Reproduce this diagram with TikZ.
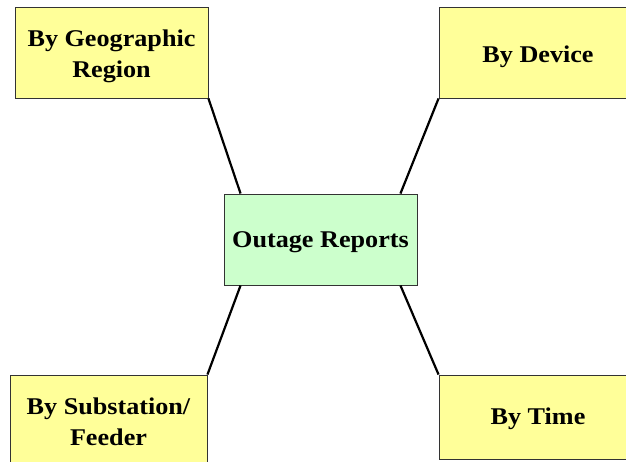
\documentclass[tikz,border=0pt]{standalone}
\usepackage{fontspec}
\setmainfont{Liberation Serif}
\newfontfamily\boxfont{Liberation Serif}[FakeStretch=1.09]
\usetikzlibrary{calc}
\definecolor{boxyellow}{HTML}{FFFF99}
\definecolor{boxgreen}{HTML}{CCFFCC}
\definecolor{edgegray}{HTML}{333333}
% label text: first baseline placed #1 below the node centre
\newcommand{\boxlabel}[2]{\raisebox{-#1}[0pt][0pt]{\begin{tabular}[t]{@{}c@{}}#2\end{tabular}}}
\begin{document}
\begin{tikzpicture}[x=1pt,y=-1pt,
  catbox/.style={draw=edgegray, line width=0.9pt, fill=boxyellow, rectangle,
    minimum width=194pt, minimum height=91pt, inner sep=0pt,
    font=\boxfont\bfseries\fontsize{24}{30.5}\selectfont},
  hubbox/.style={catbox, fill=boxgreen, minimum width=193pt, minimum height=91pt},
  link/.style={line width=2.2pt, black}]
  \useasboundingbox (0,0) rectangle (626,461);
  % central report node
  \node[hubbox] (hub) at (320.5,239.5) {\boxlabel{7.5pt}{Outage Reports}};
  % category nodes
  \node[catbox, minimum width=193pt] (geo) at (111.5,52.5)
    {\boxlabel{-5.8pt}{By Geographic\\Region}};
  \node[catbox, minimum width=198pt] (dev) at (538,52.5) {\boxlabel{10pt}{By Device}};
  \node[catbox, minimum width=197pt] (sub) at (108.5,420.5)
    {\boxlabel{-6pt}{By Substation/\\Feeder}};
  \node[catbox, minimum width=198pt, minimum height=84pt] (tim) at (538,417)
    {\boxlabel{7.5pt}{By Time}};
  % attachment points on the central node
  \coordinate (hub-tl) at ($(hub.north west)+(17,0)$);
  \coordinate (hub-tr) at ($(hub.north east)+(-17,0)$);
  \coordinate (hub-bl) at ($(hub.south west)+(17,0)$);
  \coordinate (hub-br) at ($(hub.south east)+(-17,0)$);
  % connectors
  \draw[link] (geo.south east) -- (hub-tl);
  \draw[link] (dev.south west) -- (hub-tr);
  \draw[link] (sub.north east) -- (hub-bl);
  \draw[link] (tim.north west) -- (hub-br);
\end{tikzpicture}
\end{document}
